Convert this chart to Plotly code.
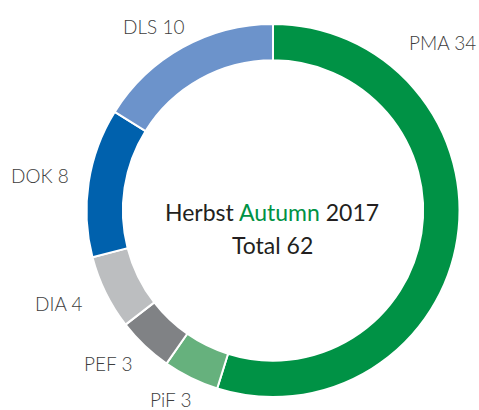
import plotly.graph_objects as go

W, H = 479, 410

# Data
categories = ["PMA", "PiF", "PEF", "DIA", "DOK", "DLS"]
values = [34, 3, 3, 4, 8, 10]
total = 62
title_de = "Herbst"
title_en = "Autumn"
year = "2017"

# Styles
colors = ["#009245", "#66b17d", "#808285", "#bcbec0", "#0061ad", "#6c93cb"]
# label centres in pixels (x, y from top)
label_px = [(442, 43), (170, 399), (108, 363), (58, 303), (40, 176), (153, 26)]

cx, cy, r = 273, 210.5, 186.5

fig = go.Figure(go.Pie(
    labels=categories,
    values=values,
    hole=0.805,
    sort=False,
    direction="clockwise",
    rotation=0,
    marker=dict(colors=colors, line=dict(color="white", width=2)),
    textinfo="none",
    hoverinfo="label+value",
    domain=dict(x=[(cx - r) / W, (cx + r) / W], y=[1 - (cy + r) / H, 1 - (cy - r) / H]),
    showlegend=False,
))

annotations = []
for cat, val, (px, py) in zip(categories, values, label_px):
    annotations.append(dict(
        x=px / W, y=1 - py / H, xref="paper", yref="paper",
        text=f"{cat} {val}", showarrow=False, xanchor="center", yanchor="middle",
        font=dict(family="Lato", size=19, color="#3d3d3d", weight=300),
    ))

annotations.append(dict(
    x=272 / W, y=1 - 212 / H, xref="paper", yref="paper",
    text=f"{title_de} <span style='color:#009245'>{title_en}</span> {year}",
    showarrow=False, xanchor="center", yanchor="middle",
    font=dict(family="Lato", size=23, color="#231f20"),
))
annotations.append(dict(
    x=272 / W, y=1 - 245 / H, xref="paper", yref="paper",
    text=f"Total {total}",
    showarrow=False, xanchor="center", yanchor="middle",
    font=dict(family="Lato", size=23, color="#231f20"),
))

fig.update_layout(
    width=W, height=H,
    margin=dict(l=0, r=0, t=0, b=0),
    paper_bgcolor="white", plot_bgcolor="white",
    annotations=annotations,
)

fig.write_html("out.html", config={"displayModeBar": False},
               post_script="document.body.style.margin='0';")
